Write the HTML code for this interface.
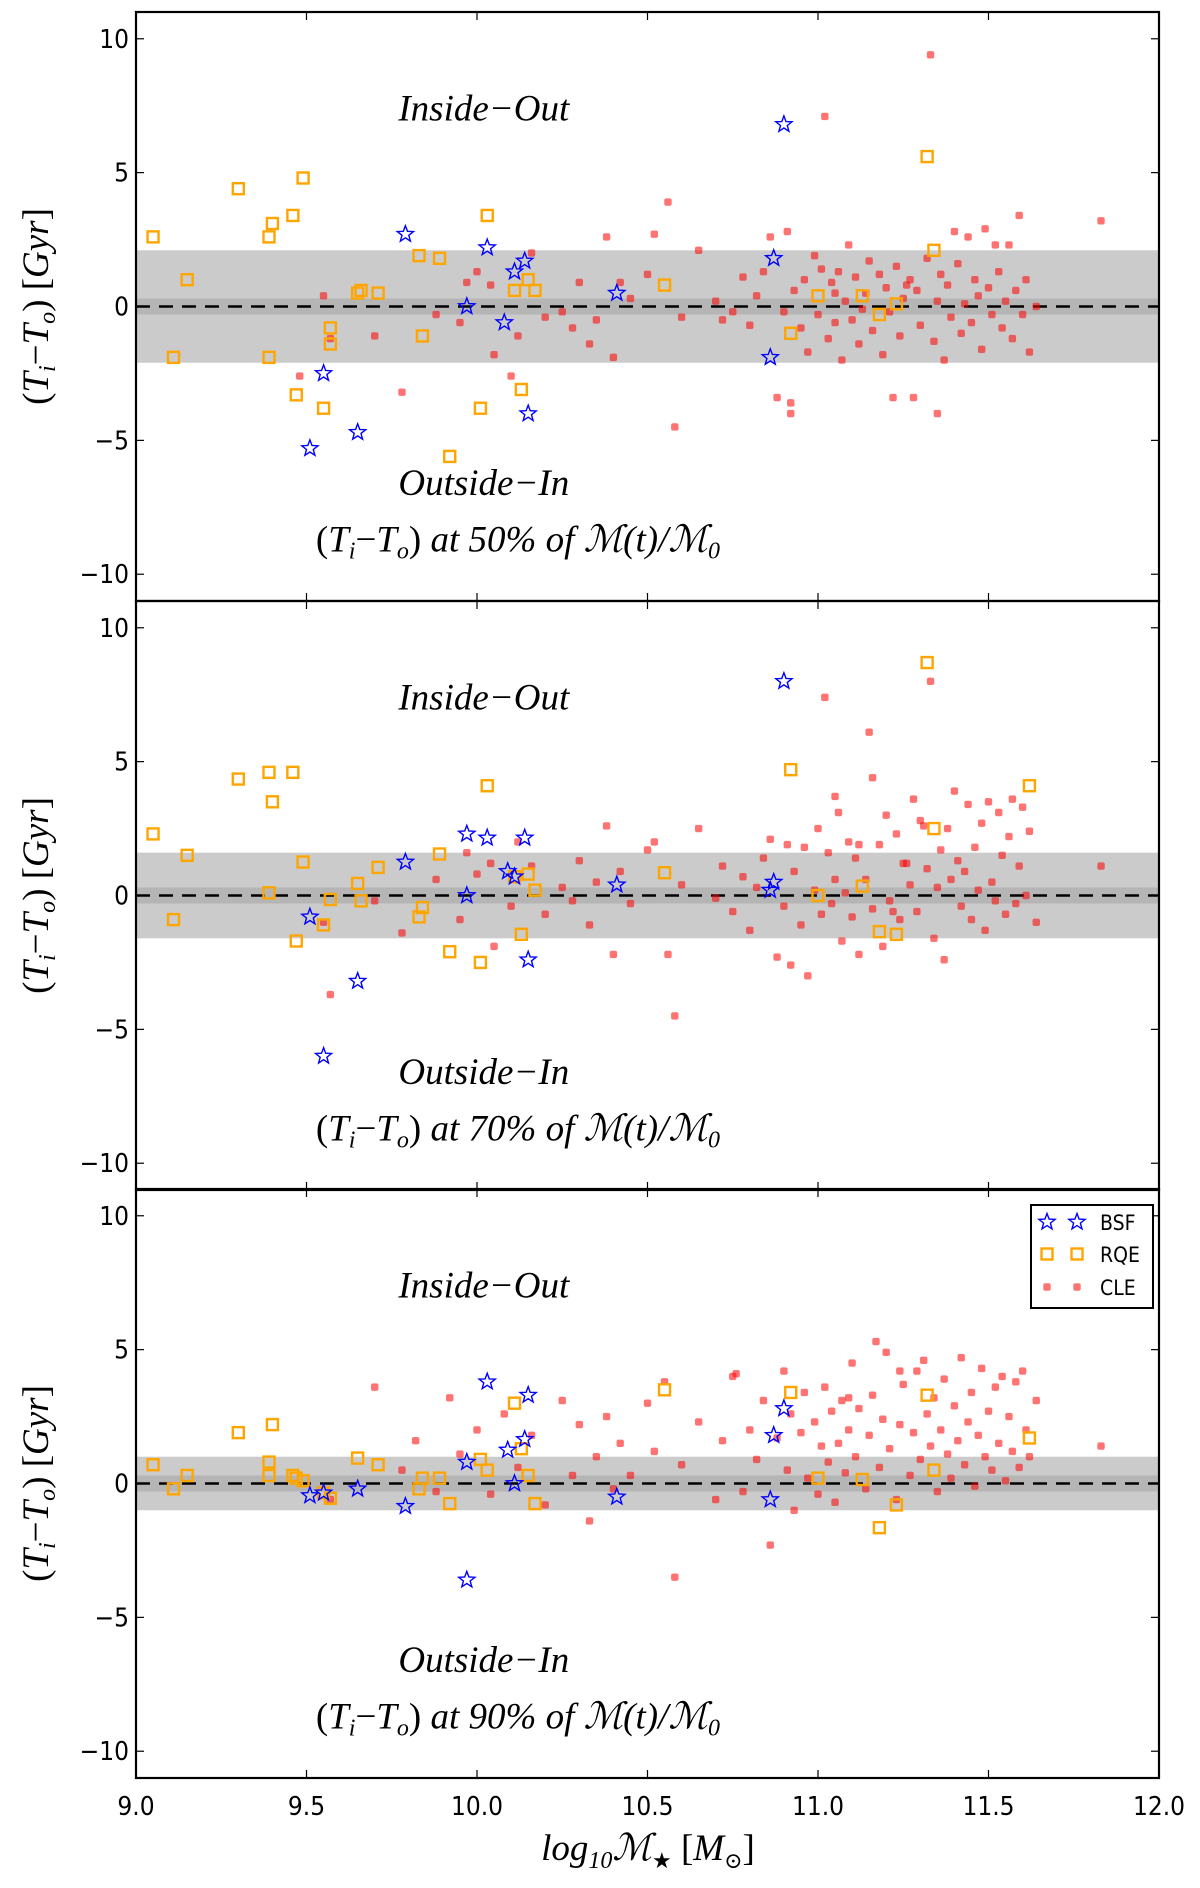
<!DOCTYPE html>
<html><head><meta charset="utf-8"><style>
html,body{margin:0;padding:0;background:#fff;}
svg{display:block;}
.tk{font-family:"DejaVu Sans Condensed","DejaVu Sans","Liberation Sans",sans-serif;font-size:26px;fill:#000;}
.it{font-family:"Liberation Serif","DejaVu Serif",serif;font-style:italic;font-size:37px;fill:#000;}
</style></head><body>
<svg id="chart" width="1200" height="1888" viewBox="0 0 1200 1888" xmlns="http://www.w3.org/2000/svg"></svg>
<script>
// ---- data ----
const xTicks = [9.0, 9.5, 10.0, 10.5, 11.0, 11.5, 12.0];
const xTickLabels = ["9.0","9.5","10.0","10.5","11.0","11.5","12.0"];
const yTicks = [-10, -5, 0, 5, 10];
const yTickLabels = ["\u221210","\u22125","0","5","10"];
const panelPercents = ["50%","70%","90%"];
const outerBands = [2.1, 1.6, 1.0];
const innerBands = [0.3, 0.3, 0.3];

const bsfX1 = [10.90,9.79,10.03,10.14,10.11,10.41,9.97,10.87,10.08,9.55,10.86,10.15,9.65,9.51];
const bsfY1 = [6.8,2.7,2.2,1.7,1.3,0.5,0.0,1.8,-0.6,-2.5,-1.9,-4.0,-4.7,-5.3];
const rqeX1 = [9.05,9.15,9.11,9.30,9.49,9.40,9.39,9.46,9.39,9.47,9.55,9.57,9.57,9.65,9.66,9.71,9.83,9.89,9.84,10.01,10.03,9.92,10.13,10.11,10.15,10.17,10.55,11.0,10.92,11.13,11.18,11.23,11.32,11.34];
const rqeY1 = [2.6,1.0,-1.9,4.4,4.8,3.1,2.6,3.4,-1.9,-3.3,-3.8,-0.8,-1.4,0.5,0.6,0.5,1.9,1.8,-1.1,-3.8,3.4,-5.6,-3.1,0.6,1.0,0.6,0.8,0.4,-1.0,0.4,-0.3,0.1,5.6,2.1];
const cleX1 = [9.55,9.57,9.48,9.70,9.78,9.88,9.95,9.97,10.0,10.04,10.05,10.10,10.12,10.16,10.2,10.25,10.28,10.3,10.33,10.35,10.38,10.4,10.42,10.45,10.5,10.52,10.56,10.58,10.6,10.65,10.7,10.72,10.75,10.78,10.8,10.82,10.84,10.86,10.88,10.9,10.91,10.92,10.93,10.95,10.96,10.97,10.99,11.0,11.01,11.02,11.03,11.04,11.05,11.06,11.07,11.08,11.09,11.1,11.11,11.12,11.14,11.15,11.16,11.18,11.19,11.2,11.21,11.23,11.24,11.25,11.27,11.28,11.29,11.3,11.32,11.33,11.34,11.35,11.36,11.37,11.38,11.39,11.40,11.41,11.42,11.43,11.44,11.45,11.46,11.47,11.48,11.49,11.5,11.51,11.52,11.53,11.54,11.55,11.56,11.57,11.58,11.59,11.6,11.61,11.62,11.64,11.83,11.35,11.22,10.92,11.05,11.13,11.26];
const cleY1 = [0.4,-1.2,-2.6,-1.1,-3.2,-0.3,-0.6,0.9,1.3,0.8,-1.8,-2.6,-1.1,2.0,-0.4,-0.2,-0.8,0.9,-1.4,-0.5,2.6,-1.9,0.9,0.3,1.2,2.7,3.9,-4.5,-0.4,2.1,0.2,-0.5,-0.2,1.1,-0.7,0.4,1.3,2.6,-3.4,-0.2,2.8,-3.6,0.6,-0.8,1.0,-1.7,1.9,-0.3,1.4,7.1,-1.2,0.9,-0.6,1.3,-2.0,0.2,2.3,-0.5,1.1,-1.4,0.5,1.7,-0.9,1.2,-1.8,0.7,-0.2,1.5,-1.1,0.3,1.0,-3.4,0.6,-0.7,1.8,9.4,-1.3,0.2,1.2,-2.0,0.8,-0.4,2.8,1.6,-1.0,0.1,2.6,-0.6,1.0,0.4,-1.6,2.9,0.7,-0.3,2.3,1.3,-0.8,0.2,2.3,-1.2,0.6,3.4,-0.3,1.0,-1.7,0.0,3.2,-4.0,-3.4,-4.0,0.5,-0.1,0.8];

const bsfX2 = [10.90,9.79,9.97,10.03,10.14,10.09,10.11,10.41,9.97,10.87,10.86,10.15,9.51,9.65,9.55];
const bsfY2 = [8.0,1.25,2.3,2.15,2.15,0.9,0.7,0.4,0.0,0.5,0.2,-2.4,-0.8,-3.2,-6.0];
const rqeX2 = [9.05,9.15,9.11,9.30,9.39,9.46,9.40,9.39,9.49,9.47,9.55,9.57,9.65,9.66,9.71,9.83,9.84,9.89,9.92,10.01,10.03,10.13,10.11,10.15,10.17,10.55,10.92,11.0,11.13,11.18,11.23,11.32,11.34,11.62];
const rqeY2 = [2.3,1.5,-0.9,4.35,4.6,4.6,3.5,0.1,1.25,-1.7,-1.1,-0.15,0.45,-0.2,1.05,-0.8,-0.45,1.55,-2.1,-2.5,4.1,-1.45,0.7,0.8,0.2,0.85,4.7,0.0,0.35,-1.35,-1.45,8.7,2.5,4.1];
const cleX2 = [9.55,9.57,9.70,9.78,9.88,9.95,9.97,10.0,10.04,10.05,10.10,10.12,10.16,10.2,10.25,10.28,10.3,10.33,10.35,10.38,10.4,10.42,10.45,10.5,10.52,10.56,10.58,10.6,10.65,10.7,10.72,10.75,10.78,10.8,10.82,10.84,10.86,10.88,10.9,10.91,10.92,10.93,10.95,10.96,10.97,10.99,11.0,11.01,11.02,11.03,11.04,11.05,11.06,11.07,11.08,11.09,11.1,11.11,11.12,11.14,11.15,11.16,11.18,11.19,11.2,11.21,11.23,11.24,11.25,11.27,11.28,11.29,11.3,11.32,11.33,11.34,11.35,11.36,11.37,11.38,11.39,11.40,11.41,11.42,11.43,11.44,11.45,11.46,11.47,11.48,11.49,11.5,11.51,11.52,11.53,11.54,11.55,11.56,11.57,11.58,11.59,11.6,11.61,11.62,11.64,11.83,11.12,11.16,11.22,11.05,11.26,11.31];
const cleY2 = [-1.0,-3.7,-0.2,-1.4,0.6,-0.9,1.6,0.8,1.2,-1.9,-0.4,2.0,1.1,-0.7,0.3,-0.2,1.3,-1.1,0.5,2.6,-2.2,0.9,-0.3,1.7,2.0,-2.2,-4.5,0.4,2.5,-0.1,1.1,-0.6,0.7,-1.3,0.3,1.4,2.1,-2.3,-0.4,1.9,-2.6,0.9,-1.1,1.8,-3.0,0.2,2.5,-0.7,7.4,1.6,-0.3,0.6,3.1,-1.7,0.1,2.0,-0.8,1.4,-2.2,0.6,6.1,-0.5,1.9,-1.9,3.0,-0.2,2.3,-0.9,1.2,0.4,3.6,-0.6,2.8,1.0,8.0,-1.6,0.3,1.7,-2.4,2.5,0.6,3.9,1.3,-0.4,0.9,3.4,-0.9,1.8,0.2,2.7,-1.3,3.5,0.5,-0.2,3.1,1.5,-0.7,2.2,3.6,-0.3,1.1,3.3,0.0,2.4,-1.0,1.1,1.9,4.4,-0.6,3.7,1.2,2.6,3.0];

const bsfX3 = [10.90,10.03,10.15,10.14,10.09,9.97,10.11,10.87,10.86,10.41,9.79,9.97,9.51,9.55,9.65];
const bsfY3 = [2.8,3.8,3.3,1.65,1.25,0.8,0.0,1.8,-0.6,-0.5,-0.85,-3.6,-0.45,-0.35,-0.2];
const rqeX3 = [9.05,9.11,9.15,9.30,9.40,9.39,9.39,9.46,9.47,9.49,9.55,9.57,9.65,9.71,9.83,9.84,9.89,9.92,10.01,10.03,10.11,10.13,10.15,10.17,10.55,10.92,11.0,11.13,11.18,11.23,11.32,11.34,11.62];
const rqeY3 = [0.7,-0.2,0.3,1.9,2.2,0.8,0.3,0.3,0.2,0.1,-0.35,-0.55,0.95,0.7,-0.2,0.2,0.2,-0.75,0.9,0.5,3.0,1.3,0.3,-0.75,3.5,3.4,0.2,0.15,-1.65,-0.8,3.3,0.5,1.7];
const cleX3 = [9.57,9.70,9.78,9.82,9.88,9.92,9.95,10.0,10.04,10.08,10.12,10.16,10.2,10.25,10.28,10.3,10.33,10.35,10.38,10.4,10.42,10.45,10.5,10.52,10.55,10.58,10.6,10.65,10.7,10.72,10.75,10.78,10.8,10.82,10.84,10.86,10.88,10.9,10.91,10.92,10.93,10.95,10.96,10.97,10.99,11.0,11.01,11.02,11.03,11.04,11.05,11.06,11.07,11.08,11.09,11.1,11.11,11.12,11.14,11.15,11.16,11.18,11.19,11.2,11.21,11.23,11.24,11.25,11.27,11.28,11.29,11.3,11.32,11.33,11.34,11.35,11.36,11.37,11.38,11.39,11.40,11.41,11.42,11.43,11.44,11.45,11.46,11.47,11.48,11.49,11.5,11.51,11.52,11.53,11.54,11.55,11.56,11.57,11.58,11.59,11.6,11.61,11.62,11.64,11.83,10.76,11.17,11.24,11.09,11.31];
const cleY3 = [-0.6,3.6,0.5,1.6,-0.3,3.2,1.1,2.0,-0.4,2.6,0.6,1.8,-0.8,3.1,0.3,2.2,-1.4,1.0,2.5,-0.2,1.5,0.3,3.0,1.2,3.8,-3.5,0.7,2.3,-0.6,1.6,4.0,-0.3,2.0,0.9,3.1,-2.3,1.7,4.2,0.5,2.6,-1.0,1.9,3.4,0.2,2.3,-0.4,1.4,3.6,0.8,2.7,-0.7,1.5,3.1,0.4,2.0,4.5,1.0,2.8,-0.2,1.8,3.3,0.6,2.4,4.9,1.3,-0.6,2.2,3.7,0.3,1.9,4.2,0.9,2.6,1.4,3.2,-0.3,2.0,3.9,1.1,0.2,2.9,1.6,4.7,0.7,2.3,3.4,-0.1,1.8,4.3,1.0,2.7,0.5,3.6,1.5,4.0,0.1,2.5,1.2,3.8,0.6,4.2,2.0,1.0,3.1,1.4,4.1,5.3,4.2,3.2,4.6,-0.8];

const panelsBSF = [[bsfX1,bsfY1],[bsfX2,bsfY2],[bsfX3,bsfY3]];
const panelsRQE = [[rqeX1,rqeY1],[rqeX2,rqeY2],[rqeX3,rqeY3]];
const panelsCLE = [[cleX1,cleY1],[cleX2,cleY2],[cleX3,cleY3]];

// ---- layout ----
const NS = "http://www.w3.org/2000/svg";
const svg = document.getElementById("chart");
const L = 136, R = 1159;
const panelTops = [12, 601, 1189];
const PH = 589;
const xMin = 9, xMax = 12, yMin = -11, yMax = 11;
function sx(v){ return L + (v - xMin) / (xMax - xMin) * (R - L); }
function syFor(p){ const t = panelTops[p]; return v => t + (yMax - v) / (yMax - yMin) * PH; }
function mk(tag, attrs, parent){ const e = document.createElementNS(NS, tag); for (const k in attrs) e.setAttribute(k, attrs[k]); (parent || svg).appendChild(e); return e; }
function starPath(cx, cy, r){
  let d = "";
  for (let i = 0; i < 10; i++){
    const rr = i % 2 === 0 ? r : r * 0.42;
    const a = -Math.PI / 2 + i * Math.PI / 5;
    d += (i ? "L" : "M") + (cx + rr * Math.cos(a)).toFixed(1) + " " + (cy + rr * Math.sin(a)).toFixed(1);
  }
  return d + "Z";
}
function drawStar(g, cx, cy){
  const e = mk("path", {d: starPath(cx, cy, 8.5), fill: "none", stroke: "#0000ff", "stroke-width": 1.4}, g);
  
  
}
function drawSquare(g, cx, cy){
  const e = mk("rect", {x: cx - 5.5, y: cy - 5.5, width: 11, height: 11, fill: "none", stroke: "#ffa500", "stroke-width": 2.4}, g);
  
  
}
function drawDot(g, cx, cy){
  const e = mk("rect", {x: cx - 3.7, y: cy - 3.7, width: 7.4, height: 7.4, rx: 2, fill: "#ff0000", "fill-opacity": 0.55}, g);
  
  
}

for (let p = 0; p < 3; p++){
  const sy = syFor(p);
  const top = panelTops[p], bot = top + PH;
  const g = mk("g", {});
  
  
  const ob = mk("rect", {x: L, y: sy(outerBands[p]), width: R - L, height: sy(-outerBands[p]) - sy(outerBands[p]), fill: "#cbcbcb"}, g);
  
  
  const ib = mk("rect", {x: L, y: sy(innerBands[p]), width: R - L, height: sy(-innerBands[p]) - sy(innerBands[p]), fill: "#b5b5b5"}, g);
  
  
  const zl = mk("line", {x1: L, x2: R, y1: sy(0), y2: sy(0), stroke: "#000", "stroke-width": 2.4, "stroke-dasharray": "14 9"}, g);
  
  
  const [cx, cy] = panelsCLE[p];
  for (let i = 0; i < cx.length; i++) drawDot(g, sx(cx[i]), sy(cy[i]));
  const [qx, qy] = panelsRQE[p];
  for (let i = 0; i < qx.length; i++) drawSquare(g, sx(qx[i]), sy(qy[i]));
  const [bx, by] = panelsBSF[p];
  for (let i = 0; i < bx.length; i++) drawStar(g, sx(bx[i]), sy(by[i]));
  const fr = mk("rect", {x: L, y: top, width: R - L, height: PH, fill: "none", stroke: "#000", "stroke-width": 2.2}, g);
  
  
  xTicks.forEach((v, i) => {
    const X = sx(v);
    mk("line", {x1: X, x2: X, y1: top, y2: top + 8, stroke: "#000", "stroke-width": 1.2}, g);
    mk("line", {x1: X, x2: X, y1: bot, y2: bot - 8, stroke: "#000", "stroke-width": 1.2}, g);
    if (p === 2){
      const t = mk("text", {x: X, y: bot + 37, "text-anchor": "middle", class: "tk"}, g);
      t.textContent = xTickLabels[i];
      
      
    }
  });
  yTicks.forEach((v, i) => {
    const Y = sy(v);
    mk("line", {x1: L, x2: L + 8, y1: Y, y2: Y, stroke: "#000", "stroke-width": 1.2}, g);
    mk("line", {x1: R, x2: R - 8, y1: Y, y2: Y, stroke: "#000", "stroke-width": 1.2}, g);
    const t = mk("text", {x: L - 7, y: Y + 9, "text-anchor": "end", class: "tk"}, g);
    t.textContent = yTickLabels[i];
    
    
  });
  const t1 = mk("text", {x: sx(10.02), y: sy(7.4) + 12, "text-anchor": "middle", class: "it"}, g);
  t1.textContent = "Inside\u2212Out";
  
  
  const t2 = mk("text", {x: sx(10.02), y: sy(-6.6) + 12, "text-anchor": "middle", class: "it"}, g);
  t2.textContent = "Outside\u2212In";
  
  
  const t3 = mk("text", {x: sx(10.12), y: sy(-8.7) + 12, "text-anchor": "middle", class: "it"}, g);
  t3.innerHTML = '<tspan font-style="normal">(</tspan>T<tspan font-size="24" dy="7">i</tspan><tspan dy="-7" font-style="normal">\u2212</tspan>T<tspan font-size="24" dy="7">o</tspan><tspan dy="-7" font-style="normal">)</tspan> at ' + panelPercents[p] + ' of \u2133(t)/\u2133<tspan font-size="24" dy="7">0</tspan>';
  
  
  const yc = top + PH / 2;
  const yl = mk("text", {x: 0, y: 0, "text-anchor": "middle", class: "it", transform: "translate(48," + yc + ") rotate(-90)"}, g);
  yl.innerHTML = '<tspan font-style="normal">(</tspan>T<tspan font-size="24" dy="7">i</tspan><tspan dy="-7" font-style="normal">\u2212</tspan>T<tspan font-size="24" dy="7">o</tspan><tspan dy="-7" font-style="normal">) [</tspan>Gyr<tspan font-style="normal">]</tspan>';
  
  
}

const xl = mk("text", {x: 648, y: 1860, "text-anchor": "middle", class: "it"});
xl.innerHTML = 'log<tspan font-size="24" dy="8">10</tspan><tspan dy="-8">\u2133</tspan><tspan font-size="22" dy="8" font-style="normal">\u2605</tspan><tspan dy="-8" font-style="normal"> [</tspan>M<tspan font-size="22" dy="8" font-style="normal">\u2299</tspan><tspan dy="-8" font-style="normal">]</tspan>';



const lg = mk("g", {});


mk("rect", {x: 1031, y: 1205, width: 122, height: 103, fill: "#fff", stroke: "#000", "stroke-width": 2}, lg);
const legNames = ["BSF","RQE","CLE"];
const legY = [1222, 1254, 1287];
for (let i = 0; i < 3; i++){
  [1047, 1077].forEach(x => {
    if (i === 0) drawStar(lg, x, legY[i]);
    else if (i === 1) drawSquare(lg, x, legY[i]);
    else drawDot(lg, x, legY[i]);
  });
  const t = mk("text", {x: 1100, y: legY[i] + 8, class: "tk"}, lg);
  t.style.fontSize = "21px";
  t.textContent = legNames[i];
  
  
}
</script>
</body></html>
